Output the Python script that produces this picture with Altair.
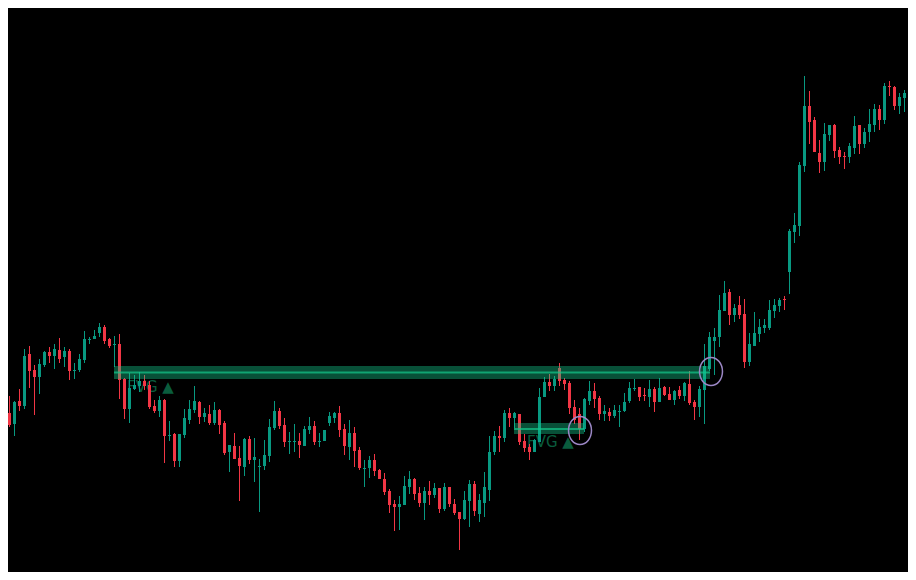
import altair as alt
import pandas as pd

# ---- candle data (price units) ----
opens = [191,187,176,199,194,246,230,223,235,248, 244,250,243,249,229,230,240,260,261,267,
         273,261,255,256,221,191,211,214,219,215, 194,189,200,164,166,139,165,180,190,198,
         183,186,177,190,177,148,154,142,133,161, 140,133,134,144,172,189,175,158,158,159,
         154,170,174,158,159,177,182,187,171,153, 167,150,131,132,140,130,121,109,96,93,
         95,113,121,107,97,109,105,112,91,113, 96,88,81,99,116,86,97,110,148,164,
         162,187,182,186,159,153,148,158,203,218, 214,232,220,217,193,186,171,199,209,202,
         186,188,184,188,189,199,211,213,205,203, 211,198,213,206,200,210,204,216,198,193,
         210,231,259,263,289,308,285,295,286,238, 254,266,272,272,289,294,301,328,368,374,
         434,494,480,447,438,465,475,450,444,443, 452,475,456,468,475,491,480,514,513,494,
         502,507,485]
highs = [194,204,199,211,251,254,235,241,249,253, 256,262,253,251,237,246,269,263,270,277,
         275,262,264,266,222,227,225,228,225,219, 200,204,201,179,167,166,191,200,214,199,
         192,195,198,191,179,155,167,154,162,164, 162,141,160,181,199,192,182,168,176,167,
         174,183,179,167,170,188,188,194,176,180, 173,153,140,144,146,131,127,111,100,104,
         124,129,122,113,113,119,117,112,117,113, 101,88,109,120,119,106,128,164,169,174,
         190,192,188,186,166,156,161,212,223,226, 224,237,222,219,200,192,202,219,217,204,
         195,192,195,195,207,218,221,213,212,220, 213,222,214,213,210,214,218,229,200,214,
         256,268,272,305,319,311,296,304,301,267, 288,281,281,300,301,302,304,371,387,438,
         524,509,483,460,477,475,476,453,448,457, 484,475,472,491,496,495,517,519,514,507,
         510,509,502]
lows = [175,173,164,189,191,212,185,206,233,237, 231,237,233,220,221,228,237,256,261,263,
        256,252,233,201,181,177,210,208,210,191, 187,183,137,159,133,133,162,176,187,176,
        178,175,175,166,145,128,141,99,124,136, 118,88,130,138,170,171,153,146,148,142,
        154,166,155,153,159,174,177,163,145,140, 133,130,113,122,124,121,105,87,69,70,
        95,106,100,93,80,95,102,87,89,93, 85,50,80,73,84,78,83,99,145,148,
        158,173,172,155,148,140,148,158,203,209, 209,214,210,186,176,160,168,195,192,180,
        179,179,182,173,188,197,209,199,199,193, 188,198,204,200,195,201,199,195,180,183,
        176,229,225,253,289,275,278,281,232,234, 254,258,267,270,282,288,290,306,357,364,
        428,456,448,427,429,459,442,436,431,437, 446,446,452,458,468,470,476,504,490,486,
        488,481,476]
closes = [187,175,198,194,244,229,223,236,248,244, 251,241,249,229,230,241,261,261,264,273,
          259,254,256,220,191,212,215,219,214,193, 189,200,164,165,139,166,182,191,199,183,
          187,177,190,175,147,155,141,134,161,140, 143,134,145,173,189,174,158,159,159,155,
          171,174,158,159,170,184,187,170,154,167, 149,132,132,140,129,121,108,95,93,96,
          114,121,106,97,109,105,112,91,113,96, 87,81,100,116,89,100,113,148,164,162,
          187,182,187,158,152,148,160,203,218,214, 221,219,216,192,180,171,201,209,201,186,
          189,184,190,189,198,212,212,203,204,211, 198,212,205,200,209,204,217,197,193,211,
          234,263,263,290,307,285,292,285,238,256, 267,273,275,290,295,300,300,369,375,435,
          494,478,448,438,466,475,449,443,443,454, 474,456,468,476,491,480,514,513,494,503,
          507,484,484]

# ---- fair value gap zones (bar index range, price range) ----
zone_start = [21.9, 101.9]
zone_end = [141.1, 115.9]
zone_top = [234, 177]
zone_bottom = [221, 166]
zone_mid = [227.5, 171]
zone_label = ["FVG ▲", "FVG ▲"]

# ---- highlight ellipses (bar index, price) ----
mark_idx = [115.1, 141.3]
mark_price = [169.5, 228.5]

GREEN = "#089981"
RED = "#F23645"

n = len(opens)
candles = pd.DataFrame({
    "i": list(range(n)),
    "open": opens, "high": highs, "low": lows, "close": closes,
})
zones = pd.DataFrame({
    "x0": zone_start, "x1": zone_end, "top": zone_top, "bottom": zone_bottom,
    "mid": zone_mid, "label": zone_label,
})

xs = alt.Scale(domain=[0.7, 180.7], nice=False, zero=False, padding=0)
ys = alt.Scale(domain=[28, 592], nice=False, zero=False, padding=0)

color_cond = alt.condition("datum.close >= datum.open", alt.value(GREEN), alt.value(RED))

base = alt.Chart(candles)

wicks = base.mark_rule(strokeWidth=1, clip=True).encode(
    x=alt.X("i:Q", scale=xs, axis=None),
    y=alt.Y("low:Q", scale=ys, axis=None),
    y2="high:Q",
    color=color_cond,
)
bodies = base.mark_bar(size=3, clip=True).encode(
    x=alt.X("i:Q", scale=xs, axis=None),
    y=alt.Y("open:Q", scale=ys, axis=None),
    y2="close:Q",
    color=color_cond,
)

zbase = alt.Chart(zones)
labels = zbase.mark_text(
    align="left", baseline="alphabetic", dx=13, dy=13, font="DejaVu Sans",
    fontSize=15, color="#0a5c3d",
).encode(
    x=alt.X("x0:Q", scale=xs, axis=None),
    y=alt.Y("bottom:Q", scale=ys, axis=None),
    text="label:N",
)
zone_rects = zbase.mark_rect(color="#14c88c", opacity=0.4, clip=True).encode(
    x=alt.X("x0:Q", scale=xs, axis=None),
    x2="x1:Q",
    y=alt.Y("top:Q", scale=ys, axis=None),
    y2="bottom:Q",
)
zone_lines = zbase.mark_rule(color="#14c88c", opacity=0.7, strokeWidth=2, clip=True).encode(
    x=alt.X("x0:Q", scale=xs, axis=None),
    x2="x1:Q",
    y=alt.Y("mid:Q", scale=ys, axis=None),
)

ellipse_path = "M -0.82 0 A 0.82 1 0 1 1 0.82 0 A 0.82 1 0 1 1 -0.82 0 Z"
circles = alt.Chart(pd.DataFrame({"i": mark_idx, "p": mark_price})).mark_point(
    shape=ellipse_path, size=784, filled=False, stroke="#9b87c5", strokeWidth=1.5,
    opacity=1, clip=True,
).encode(
    x=alt.X("i:Q", scale=xs, axis=None),
    y=alt.Y("p:Q", scale=ys, axis=None),
)

chart = alt.layer(labels, wicks, bodies, zone_rects, zone_lines, circles).properties(
    width=900, height=564, padding=0, background="#000000",
).configure_view(stroke=None)

chart.save("out.html", embed_options={"renderer": "svg", "actions": False})
